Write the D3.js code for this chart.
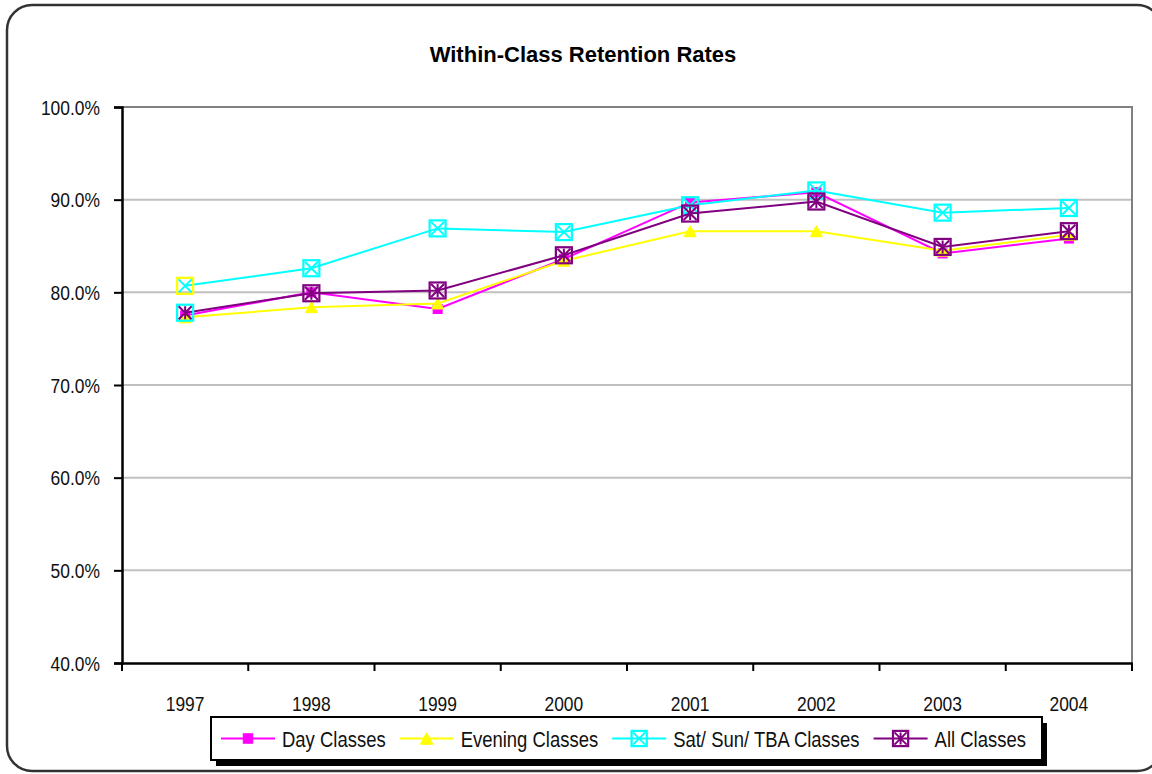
<!DOCTYPE html>
<html>
<head>
<meta charset="utf-8">
<script src="https://cdn.jsdelivr.net/npm/d3@7"></script>
<style>
  html, body { margin: 0; padding: 0; background: #fff; }
  svg { display: block; }
</style>
</head>
<body>
<svg id="chart" width="1152" height="774"></svg>
<script>
// ---- data ----
const years = ["1997", "1998", "1999", "2000", "2001", "2002", "2003", "2004"];
const dayClasses = [77.5, 80.0, 78.2, 83.6, 89.7, 90.8, 84.2, 85.8];
const eveningClasses = [77.3, 78.4, 78.8, 83.4, 86.6, 86.6, 84.5, 86.2];
const satSunTbaClasses = [80.7, 82.6, 86.9, 86.5, 89.4, 91.0, 88.6, 89.1];
const allClasses = [77.8, 79.9, 80.2, 84.0, 88.5, 89.8, 84.9, 86.6];
const yTicks = [40, 50, 60, 70, 80, 90, 100];
const seriesNames = ["Day Classes", "Evening Classes", "Sat/ Sun/ TBA Classes", "All Classes"];

// ---- layout ----
const svg = d3.select("#chart");
const plot = { left: 122, right: 1132, top: 107, bottom: 663 };
const FONT = "Liberation Sans, Arial, sans-serif";
const SX = 0.83; // horizontal condensation (narrow face look)

const series = [
  { name: seriesNames[0], values: dayClasses, color: "#FF00FF", marker: "square" },
  { name: seriesNames[1], values: eveningClasses, color: "#FFFF00", marker: "triangle" },
  { name: seriesNames[2], values: satSunTbaClasses, color: "#00FFFF", marker: "boxX", edgeOverride: { 0: "#FFFF00" } },
  { name: seriesNames[3], values: allClasses, color: "#800080", marker: "boxStar", edgeOverride: { 0: "#00FFFF" } }
];

const x = d3.scaleBand().domain(years).range([plot.left, plot.right]);
const y = d3.scaleLinear().domain([40, 100]).range([plot.bottom, plot.top]);
const cx = d => x(d) + x.bandwidth() / 2;

function narrowText(parent, tx, ty, str, size, anchor, sx) {
  return parent.append("text")
    .attr("transform", `translate(${tx},${ty}) scale(${sx || SX},1)`)
    .attr("text-anchor", anchor || "start")
    .attr("font-family", FONT)
    .attr("font-size", size)
    .attr("fill", "#111")
    .text(str);
}

// chart border
svg.append("rect")
  .attr("x", 7).attr("y", 5).attr("width", 1155).attr("height", 766)
  .attr("rx", 25).attr("ry", 25)
  .attr("fill", "#fff").attr("stroke", "#333").attr("stroke-width", 2.5);

// title
svg.append("text")
  .attr("x", 583).attr("y", 62)
  .attr("text-anchor", "middle")
  .attr("font-family", FONT)
  .attr("font-weight", "bold")
  .attr("font-size", 22)
  .attr("fill", "#000")
  .text("Within-Class Retention Rates");

// gridlines
svg.append("g").selectAll("line")
  .data(yTicks.filter(t => t > 40 && t < 100))
  .join("line")
  .attr("x1", plot.left).attr("x2", plot.right)
  .attr("y1", d => y(d)).attr("y2", d => y(d))
  .attr("stroke", "#C0C0C0").attr("stroke-width", 2);

// plot border top/right
svg.append("path")
  .attr("d", `M${plot.left},${y(100)}H${plot.right}V${plot.bottom}`)
  .attr("fill", "none").attr("stroke", "#808080").attr("stroke-width", 2);

// y axis (line + ticks from d3 axis, labels condensed)
const yAxis = d3.axisLeft(y).tickValues(yTicks).tickSize(8).tickFormat("");
const gy = svg.append("g").attr("transform", `translate(${plot.left},0)`).call(yAxis);
gy.select(".domain").attr("stroke", "#000").attr("stroke-width", 2.5);
gy.selectAll(".tick line").attr("stroke", "#000").attr("stroke-width", 2);
const gyl = svg.append("g");
yTicks.forEach(t => narrowText(gyl, 100, y(t) + 7.5, t.toFixed(1) + "%", 21, "end"));

// x axis
const xAxis = d3.axisBottom(x).tickSize(0).tickFormat("");
const gx = svg.append("g").attr("transform", `translate(0,${plot.bottom})`).call(xAxis);
gx.select(".domain").attr("stroke", "#000").attr("stroke-width", 2.5);
const boundaries = years.map(d => x(d)).concat([x(years[years.length - 1]) + x.bandwidth()]);
svg.append("g").selectAll("line").data(boundaries).join("line")
  .attr("x1", d => d).attr("x2", d => d)
  .attr("y1", plot.bottom).attr("y2", plot.bottom + 8)
  .attr("stroke", "#000").attr("stroke-width", 2);
const gxl = svg.append("g");
years.forEach(yr => narrowText(gxl, cx(yr), 711, yr, 21, "middle"));

// markers
function drawMarker(g, type, px, py, color, edge, scale) {
  const s = scale || 1;
  if (type === "square") {
    const h = 4.5 * s;
    g.append("rect").attr("x", px - h).attr("y", py - h).attr("width", 2 * h).attr("height", 2 * h)
      .attr("fill", color).attr("stroke", color).attr("stroke-width", 1);
  } else if (type === "triangle") {
    const w = 6 * s, h = 5.5 * s;
    g.append("path").attr("d", `M${px},${py - h}L${px + w},${py + h}L${px - w},${py + h}Z`)
      .attr("fill", color).attr("stroke", color).attr("stroke-width", 1);
  } else {
    const h = 8 * s;
    g.append("rect").attr("x", px - h).attr("y", py - h).attr("width", 2 * h).attr("height", 2 * h)
      .attr("fill", "none").attr("stroke", edge || color).attr("stroke-width", 2.2);
    const k = h - 1.5;
    let d = `M${px - k},${py - k}L${px + k},${py + k}M${px + k},${py - k}L${px - k},${py + k}`;
    if (type === "boxStar") d += `M${px},${py - k}L${px},${py + k}`;
    g.append("path").attr("d", d).attr("fill", "none").attr("stroke", color).attr("stroke-width", 2);
  }
}

const line = d3.line().x((v, i) => cx(years[i])).y(v => y(v));
series.forEach(s => {
  const g = svg.append("g");
  g.append("path").attr("d", line(s.values))
    .attr("fill", "none").attr("stroke", s.color).attr("stroke-width", 2);
  s.values.forEach((v, i) => {
    const edge = s.edgeOverride && s.edgeOverride[i] ? s.edgeOverride[i] : null;
    drawMarker(g, s.marker, cx(years[i]), y(v), s.color, edge);
  });
});

// legend
const legend = { x: 211, y: 717, w: 831, h: 43 };
svg.append("rect").attr("x", legend.x + 5).attr("y", legend.y + 6)
  .attr("width", legend.w).attr("height", legend.h).attr("fill", "#000");
svg.append("rect").attr("x", legend.x).attr("y", legend.y)
  .attr("width", legend.w).attr("height", legend.h)
  .attr("fill", "#fff").attr("stroke", "#000").attr("stroke-width", 2);

let lx = legend.x + 10;
const ly = legend.y + 21.5;
series.forEach(s => {
  const g = svg.append("g");
  g.append("line").attr("x1", lx).attr("x2", lx + 54).attr("y1", ly).attr("y2", ly)
    .attr("stroke", s.color).attr("stroke-width", 2);
  drawMarker(g, s.marker, lx + 27, ly, s.color, null, s.marker.startsWith("box") ? 0.95 : 1.05);
  const t = narrowText(g, lx + 61, ly + 8, s.name, 22, "start", 0.84);
  lx += 61 + t.node().getComputedTextLength() * 0.84 + 14;
});
</script>
</body>
</html>
